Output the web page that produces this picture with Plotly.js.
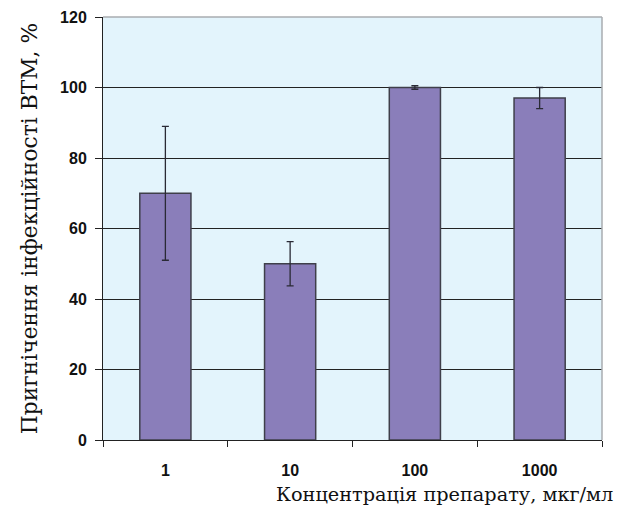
<!DOCTYPE html>
<html>
<head>
<meta charset="utf-8">
<script src="https://cdn.plot.ly/plotly-3.0.1.min.js"></script>
<style>html,body{margin:0;padding:0;background:#fff;}#chart{width:619px;height:514px;}</style>
</head>
<body>
<div id="chart"></div>
<script>
const categories = ["1", "10", "100", "1000"];
const values = [70, 50, 100, 97];
const errors = [19, 6.3, 0.5, 3];
const yTickVals = [0, 20, 40, 60, 80, 100, 120];
const xTitle = "Концентрація препарату, мкг/мл";
const yTitle = "Пригнічення інфекційності ВТМ, %";

const trace = {
  type: "bar",
  x: categories,
  y: values,
  marker: {color: "#8A7EBA", line: {color: "#3f3f4a", width: 1.5}},
  error_y: {type: "data", array: errors, visible: true, color: "#2a2a35", thickness: 1.3, width: 3.5},
  hoverinfo: "none"
};

const layout = {
  width: 619, height: 514,
  margin: {l: 103, r: 17, t: 17, b: 74},
  paper_bgcolor: "#ffffff",
  plot_bgcolor: "#E3F4FC",
  showlegend: false,
  bargap: 0.59,
  font: {family: "Liberation Sans, Arial, sans-serif", color: "#000"},
  xaxis: {
    type: "category",
    tickson: "boundaries",
    ticks: "outside", ticklen: 6, tickcolor: "#222", tickwidth: 1,
    showline: true, linecolor: "#222", linewidth: 1,
    showgrid: false,
    ticklabelstandoff: 16,
    tickfont: {family: "Liberation Sans, Arial, sans-serif", size: 16, weight: "bold", color: "#111"}
  },
  yaxis: {
    range: [0, 120],
    tickvals: yTickVals,
    ticks: "outside", ticklen: 7, tickcolor: "#222", tickwidth: 1,
    showline: true, linecolor: "#222", linewidth: 1,
    showgrid: true, gridcolor: "#222", gridwidth: 1,
    zeroline: false,
    ticklabelstandoff: 5,
    tickfont: {family: "Liberation Sans, Arial, sans-serif", size: 16, weight: "bold", color: "#111"},
    title: {text: yTitle, standoff: 16, font: {family: "DejaVu Serif, serif", size: 21.8, color: "#111"}}
  },
  shapes: [
    {type: "line", xref: "paper", yref: "paper", x0: 0, x1: 1, y0: 1, y1: 1, line: {color: "#a8adb0", width: 1.5}, layer: "above"},
    {type: "line", xref: "paper", yref: "paper", x0: 1, x1: 1, y0: 0, y1: 1, line: {color: "#a8adb0", width: 1.5}, layer: "above"}
  ],
  annotations: [
    {text: xTitle, xref: "paper", yref: "paper", x: 1.026, y: -0.13, xanchor: "right", yanchor: "middle",
     showarrow: false, font: {family: "DejaVu Serif, serif", size: 19.3, color: "#111"}}
  ]
};

Plotly.newPlot("chart", [trace], layout, {staticPlot: true, displayModeBar: false});
</script>
</body>
</html>
